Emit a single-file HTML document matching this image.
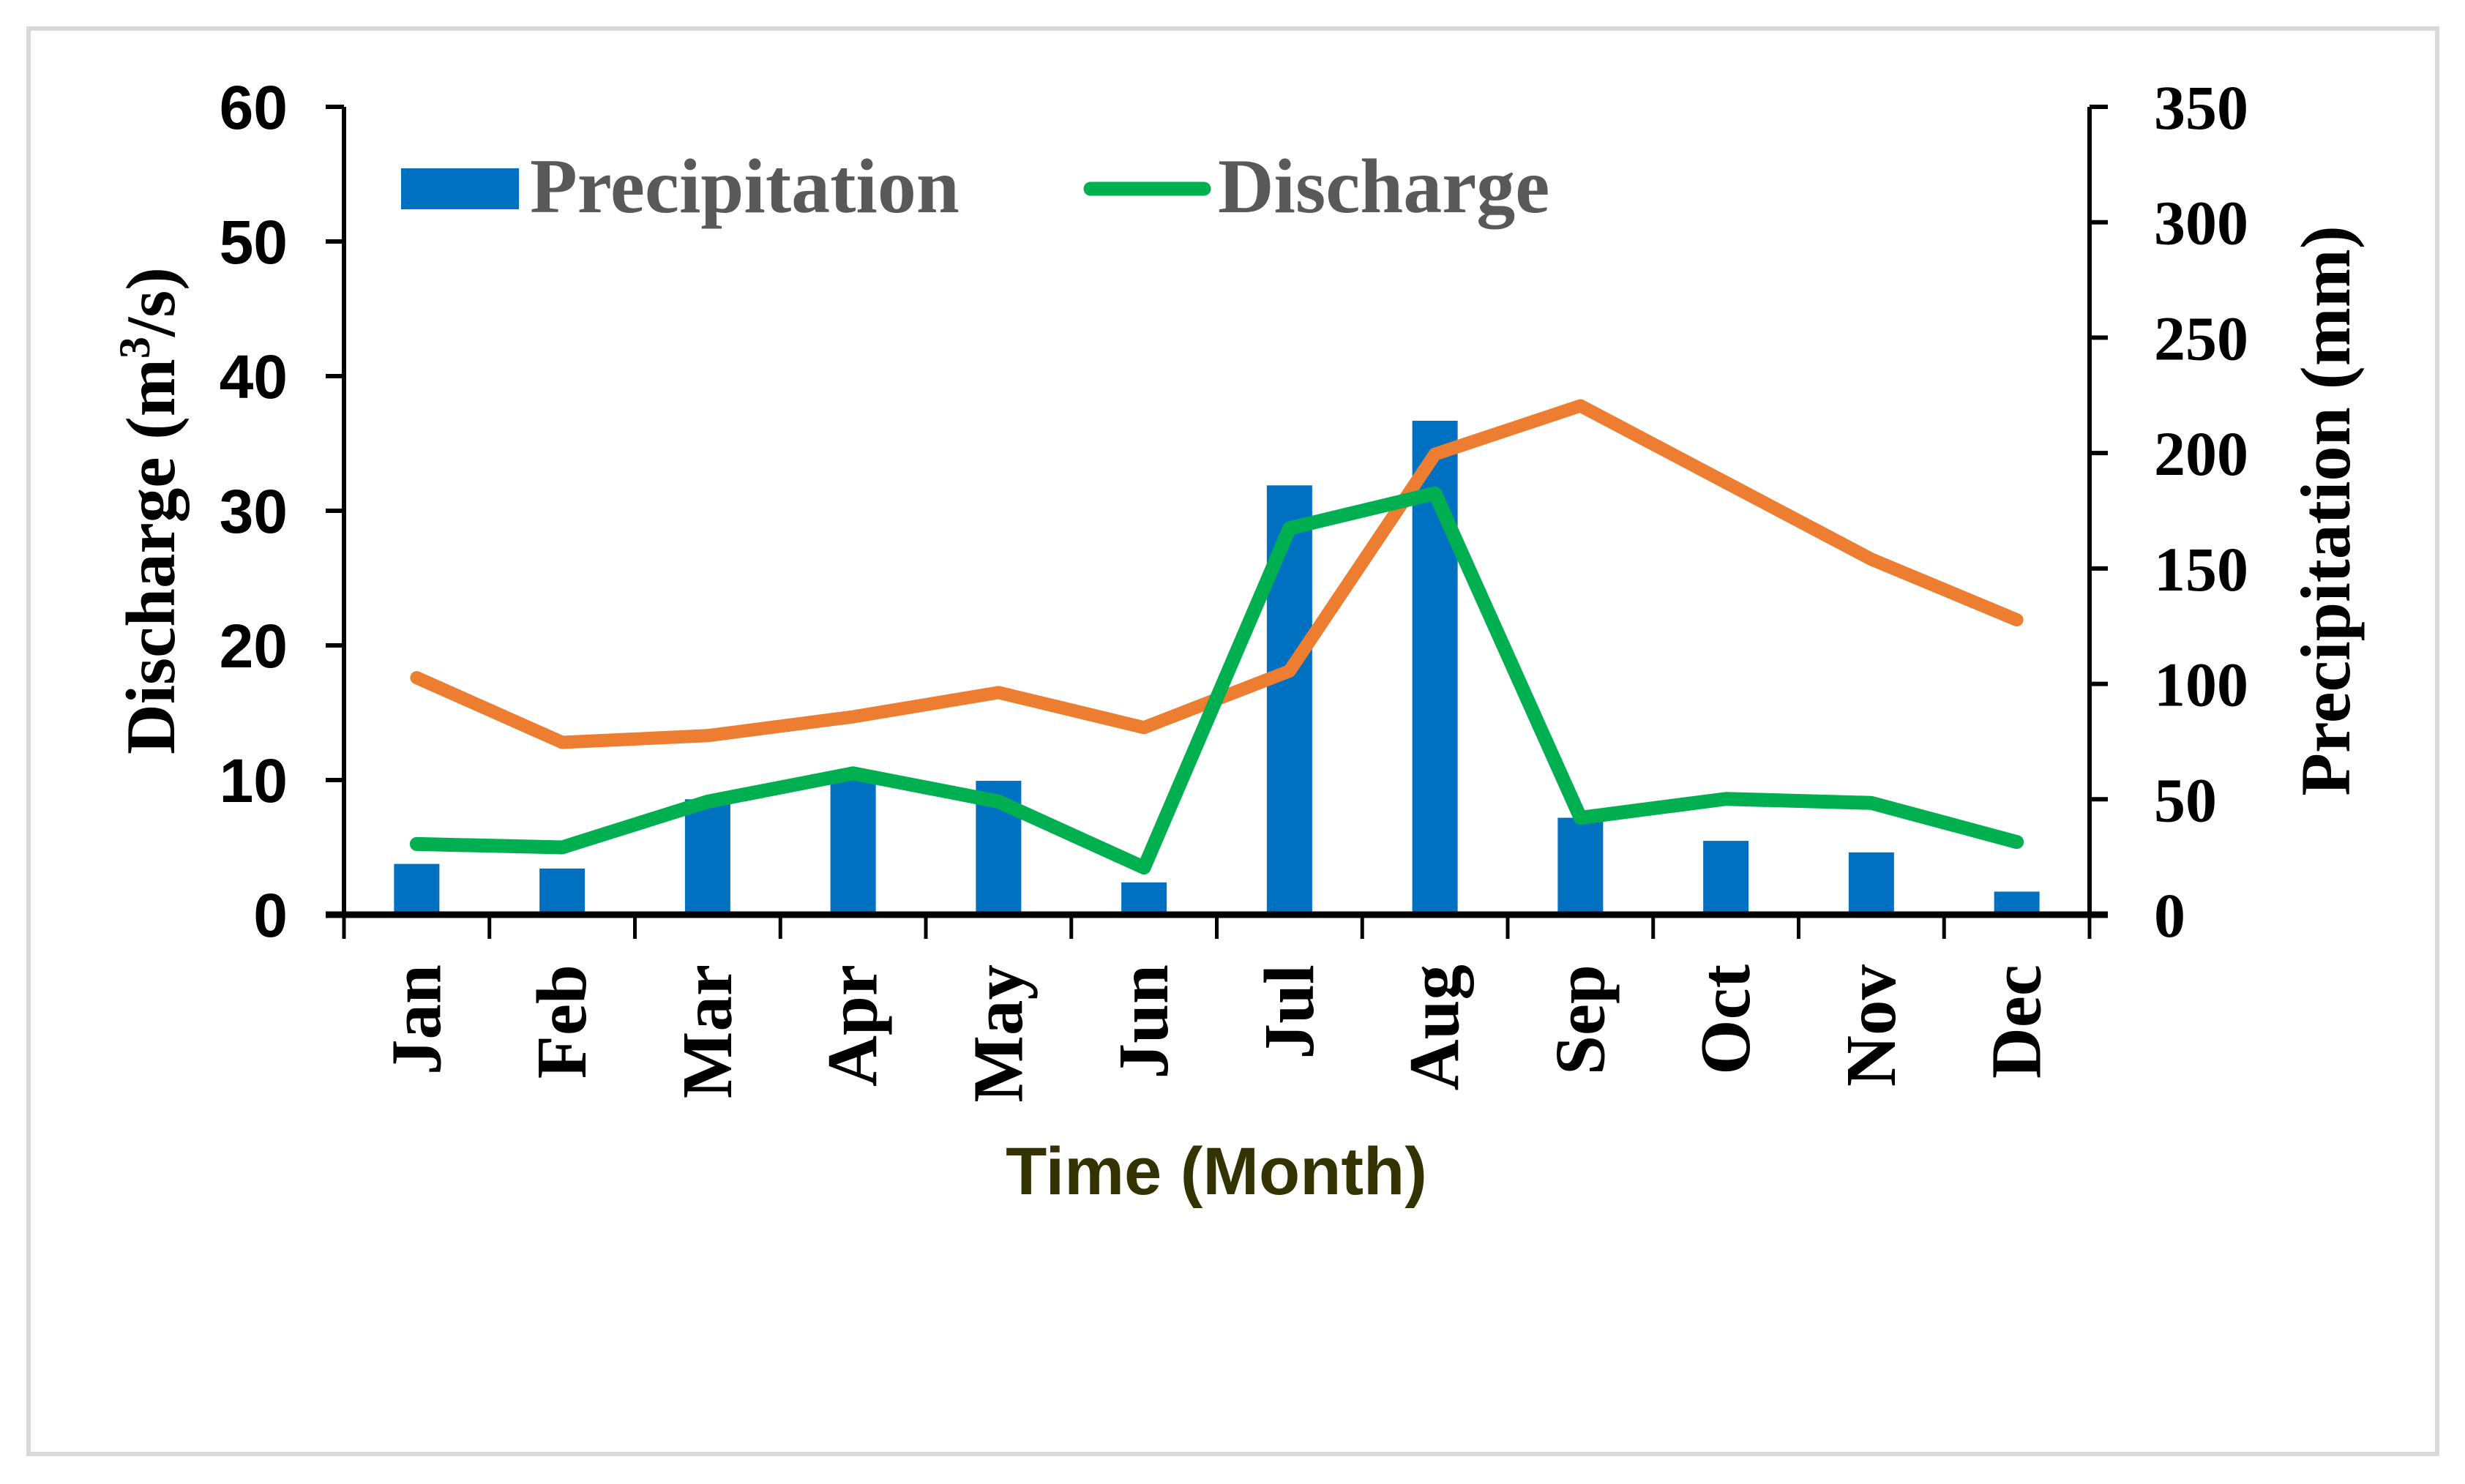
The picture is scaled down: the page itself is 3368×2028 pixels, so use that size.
<!DOCTYPE html>
<html><head><meta charset="utf-8"><style>
html,body{margin:0;padding:0;background:#fff;}
svg{display:block;}
</style></head><body>
<svg id="chart" width="3368" height="2028" viewBox="0 0 3368 2028" xmlns="http://www.w3.org/2000/svg">
<rect x="39" y="39" width="3291" height="1948" fill="#fff" stroke="#d9d9d9" stroke-width="6"/>
<g id="plot"></g>
</svg>
<script>
const months = ["Jan","Feb","Mar","Apr","May","Jun","Jul","Aug","Sep","Oct","Nov","Dec"];
const precipitation = [22,20,50,60,58,14,186,214,42,32,27,10];
const discharge = [5.25,5.0,8.4,10.5,8.4,3.5,28.7,31.3,7.2,8.6,8.3,5.4];
const orangeSeries = [17.6,12.8,13.3,14.7,16.5,13.9,18.1,34.2,37.8,32.1,26.4,21.9];
const leftTicks = [0,10,20,30,40,50,60];
const rightTicks = [0,50,100,150,200,250,300,350];

const NS = "http://www.w3.org/2000/svg";
const g = document.getElementById('plot');
const X0 = 470, X1 = 2855, Y0 = 1250, Y1 = 146;
const band = (X1 - X0) / months.length;
const xc = i => X0 + band * (i + 0.5);
const yL = v => Y0 - (v / 60) * (Y0 - Y1);
const yR = v => Y0 - (v / 350) * (Y0 - Y1);
function mk(tag, attrs, parent) {
  const e = document.createElementNS(NS, tag);
  for (const k in attrs) e.setAttribute(k, attrs[k]);
  (parent || g).appendChild(e);
  return e;
}
precipitation.forEach((v, i) => {
  const b = mk('rect', {x: xc(i) - 31, y: yR(v), width: 62, height: Y0 - yR(v), fill: '#0070c0'});
  
  
});
function line(arr, color, w, name) {
  const p = mk('polyline', {points: arr.map((v, i) => xc(i) + ',' + yL(v)).join(' '), fill: 'none', stroke: color, 'stroke-width': w, 'stroke-linejoin': 'round', 'stroke-linecap': 'round'});
  
  
}
line(orangeSeries, '#ed7d31', 18, 'orange-line');
line(discharge, '#00b050', 19, 'discharge-line');
const axL = mk('line', {x1: X0, y1: Y1, x2: X0, y2: Y0, stroke: '#000', 'stroke-width': 6});
 
const axR = mk('line', {x1: X1, y1: Y1, x2: X1, y2: Y0, stroke: '#000', 'stroke-width': 6});
 
const axX = mk('line', {x1: 445, y1: Y0, x2: 2880, y2: Y0, stroke: '#000', 'stroke-width': 9});
 
leftTicks.forEach(v => {
  mk('line', {x1: 445, y1: yL(v), x2: X0, y2: yL(v), stroke: '#000', 'stroke-width': 6});
  const t = mk('text', {x: 393, y: yL(v) + 30, 'text-anchor': 'end', 'font-family': 'Liberation Sans, sans-serif', 'font-weight': 'bold', 'font-size': 84, fill: '#000'});
  t.textContent = v;
  
  
});
rightTicks.forEach(v => {
  mk('line', {x1: X1, y1: yR(v), x2: 2880, y2: yR(v), stroke: '#000', 'stroke-width': 6});
  const t = mk('text', {x: 2943, y: yR(v) + 30, 'font-family': 'Liberation Serif, serif', 'font-weight': 'bold', 'font-size': 86, fill: '#000'});
  t.textContent = v;
  
  
});
for (let i = 0; i <= months.length; i++) {
  const x = X0 + band * i;
  mk('line', {x1: x, y1: Y0, x2: x, y2: 1283, stroke: '#000', 'stroke-width': 5});
}
months.forEach((m, i) => {
  const t = mk('text', {x: 0, y: 0, 'text-anchor': 'end', 'font-family': 'Liberation Serif, serif', 'font-weight': 'bold', 'font-size': 97, fill: '#000', transform: 'translate(' + (xc(i) + 32) + ',1318) rotate(-90)'});
  t.textContent = m;
  
  
});
</script>
<script>
(function(){
  const NS = "http://www.w3.org/2000/svg";
  const s = document.getElementById('chart');
  function add(tag, attrs, txt) {
    const e = document.createElementNS(NS, tag);
    for (const k in attrs) e.setAttribute(k, attrs[k]);
    if (txt) e.textContent = txt;
    s.appendChild(e);
    return e;
  }
  const a = add('text', {transform: 'translate(238,698) rotate(-90)', 'text-anchor': 'middle', 'font-family': 'Liberation Serif, serif', 'font-weight': 'bold', 'font-size': 95, fill: '#000'});
  a.innerHTML = 'Discharge (m<tspan font-size="60" dy="-34">3</tspan><tspan dy="34">/s)</tspan>';
  
  
  const b = add('text', {transform: 'translate(3210,698) rotate(-90)', 'text-anchor': 'middle', 'font-family': 'Liberation Serif, serif', 'font-weight': 'bold', 'font-size': 96, fill: '#000'}, 'Precipitation (mm)');
  
  
  const c = add('text', {x: 1662, y: 1632, 'text-anchor': 'middle', 'font-family': 'Liberation Sans, sans-serif', 'font-weight': 'bold', 'font-size': 92, fill: '#333300'}, 'Time (Month)');
  
  
  const lr = add('rect', {x: 548, y: 230, width: 161, height: 56, fill: '#0070c0'});
  
  
  const lt = add('text', {x: 724, y: 290, 'font-family': 'Liberation Serif, serif', 'font-weight': 'bold', 'font-size': 106, fill: '#595959'}, 'Precipitation');
  
  
  const ll = add('line', {x1: 1490, y1: 258, x2: 1645, y2: 258, stroke: '#00b050', 'stroke-width': 19, 'stroke-linecap': 'round'});
  
  
  const lt2 = add('text', {x: 1664, y: 290, 'font-family': 'Liberation Serif, serif', 'font-weight': 'bold', 'font-size': 106, fill: '#595959'}, 'Discharge');
  
  
})();
</script>
</body></html>
